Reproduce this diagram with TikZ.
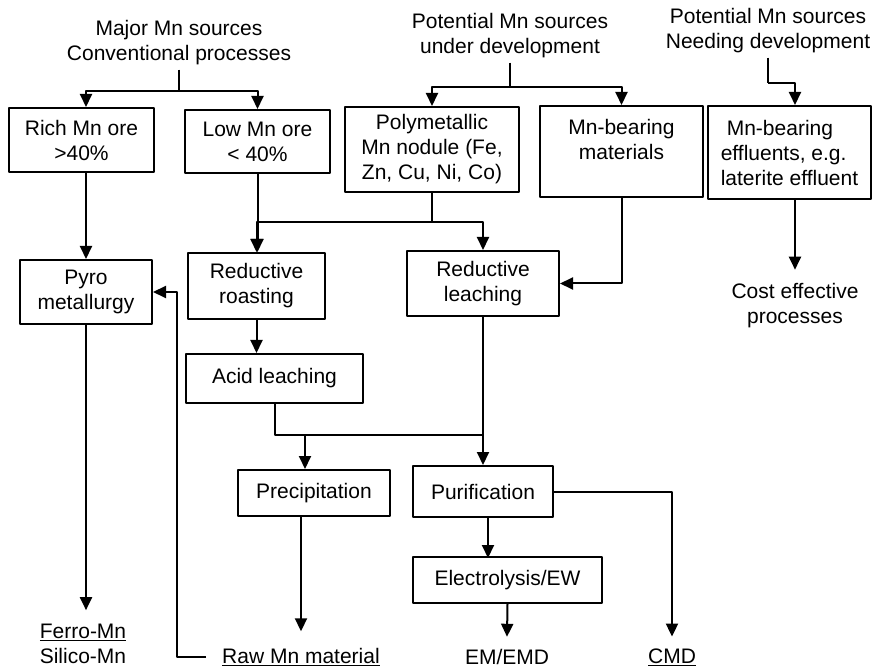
\documentclass[tikz,border=0pt]{standalone}
\usepackage{fontspec}
\setmainfont{Liberation Sans}
\usetikzlibrary{arrows.meta}
\tikzset
{
  process box/.style={draw,align=center,inner sep=2pt},
  source head/.style={align=center},
  product/.style={align=center,inner sep=0pt},
  flow/.style={-{Triangle[width=12pt,length=13pt]}}
}

\begin{document}
\begin{tikzpicture}[x=1pt,y=-1pt,line width=2pt,line join=round,font=\fontsize{21}{25}\selectfont]
  \useasboundingbox (0,0) rectangle (873,668);
  % source headings
  \node[source head] (h1) at (179,43) {Major Mn sources\\Conventional processes};
  \node[source head] (h2) at (510,36) {Potential Mn sources\\under development};
  \node[source head] (h3) at (768,31) {Potential Mn sources\\Needing development};
  % sources
  \node[process box,minimum width=145pt,minimum height=64pt] (rich)  at (81.5,140)  {Rich Mn ore\\>40\%};
  \node[process box,minimum width=145pt,minimum height=63pt] (low)   at (257.5,141.5) {Low Mn ore\\< 40\%};
  \node[process box,minimum width=174pt,minimum height=85pt] (poly)  at (432,149.5) {Polymetallic\\Mn nodule (Fe,\\Zn, Cu, Ni, Co)};
  \node[process box,minimum width=163pt,minimum height=91pt] (mnmat) at (621.5,151.5) {Mn-bearing\\materials\\\mbox{}};
  \node[process box,minimum width=163pt,minimum height=93pt,align=left] (effl) at (789.5,152.5)
    {\hspace*{6pt}Mn-bearing\\effluents, e.g.\\laterite effluent};
  % processes
  \node[process box,minimum width=132pt,minimum height=64pt] (pyro)   at (86,292)    {Pyro\\metallurgy};
  \node[process box,minimum width=137pt,minimum height=66pt] (roast)  at (256.5,286) {Reductive\\roasting};
  \node[process box,minimum width=152pt,minimum height=65pt] (rleach) at (483,283.5) {Reductive\\leaching};
  \node[process box,minimum width=177pt,minimum height=49pt] (acid)   at (274.5,378.5) {Acid leaching};
  \node[process box,minimum width=152pt,minimum height=46pt] (precip) at (314,493)   {Precipitation};
  \node[process box,minimum width=140pt,minimum height=51pt] (purif)  at (483,491.5) {Purification};
  \node[process box,minimum width=189pt,minimum height=46pt] (elec)   at (507.5,580) {Electrolysis/EW};
  % products
  \node[product] (cost)  at (795,306)   {Cost effective\\processes};
  \node[product] (ferro) at (83,644)    {\underline{Ferro-Mn}\\Silico-Mn};
  \node[product] (raw)   at (301,657)   {\underline{Raw Mn material}};
  \node[product] (emd)   at (507,656.5) {EM/EMD};
  \node[product] (cmd)   at (672,657)   {\underline{CMD}};
  % junctions
  \coordinate (t1) at (179,91);
  \coordinate (t2) at (510,87);
  \coordinate (t3) at (768,83);
  \coordinate (j1) at (432,222);
  \coordinate (j2) at (483,435);
  \coordinate (j3) at (305,435);
  % headings to sources
  \draw (h1.south) -- (t1);
  \draw[flow] (t1) -| (pyro |- rich.north);
  \draw[flow] (t1) -| (low.north);
  \draw (h2.south) -- (t2);
  \draw[flow] (t2) -| (poly.north);
  \draw[flow] (t2) -| (mnmat.north);
  \draw (h3.south) -- (t3);
  \draw[flow] (t3) -| (cost |- effl.north);
  \draw[flow] (cost |- effl.south) -- ([yshift=13pt]cost.north);
  % pyro route
  \draw[flow] (pyro |- rich.south) -- (pyro.north);
  \draw[flow] (pyro.south) -- ([yshift=13pt]pyro |- ferro.north);
  % roasting and leaching
  \draw[flow] (low.south) -- (low.south |- roast.north);
  \draw (poly.south) -- (j1);
  \draw[flow] (j1) -| (roast.north);
  \draw[flow] (j1) -| (rleach.north);
  \draw[flow] (mnmat.south) |- (rleach.east);
  \draw[flow] (roast.south) -- (roast.south |- acid.north);
  \draw (acid.south) |- (j2);
  \draw[flow] (j3) -- (j3 |- precip.north);
  \draw[flow] (rleach.south) -- (purif.north);
  % products
  \draw[flow] (raw |- precip.south) -- ([yshift=16pt]raw.north);
  \draw[flow] ([xshift=-15pt]raw.west) -| ([xshift=24pt]pyro.east) -- (pyro.east);
  \draw[flow] ([xshift=5pt]purif.south) -- ++(0,40);
  \draw[flow] (purif.east) -| ([yshift=11pt]cmd.north);
  \draw[flow] (elec.south) -- ([yshift=11pt]emd.north);
\end{tikzpicture}
\end{document}
